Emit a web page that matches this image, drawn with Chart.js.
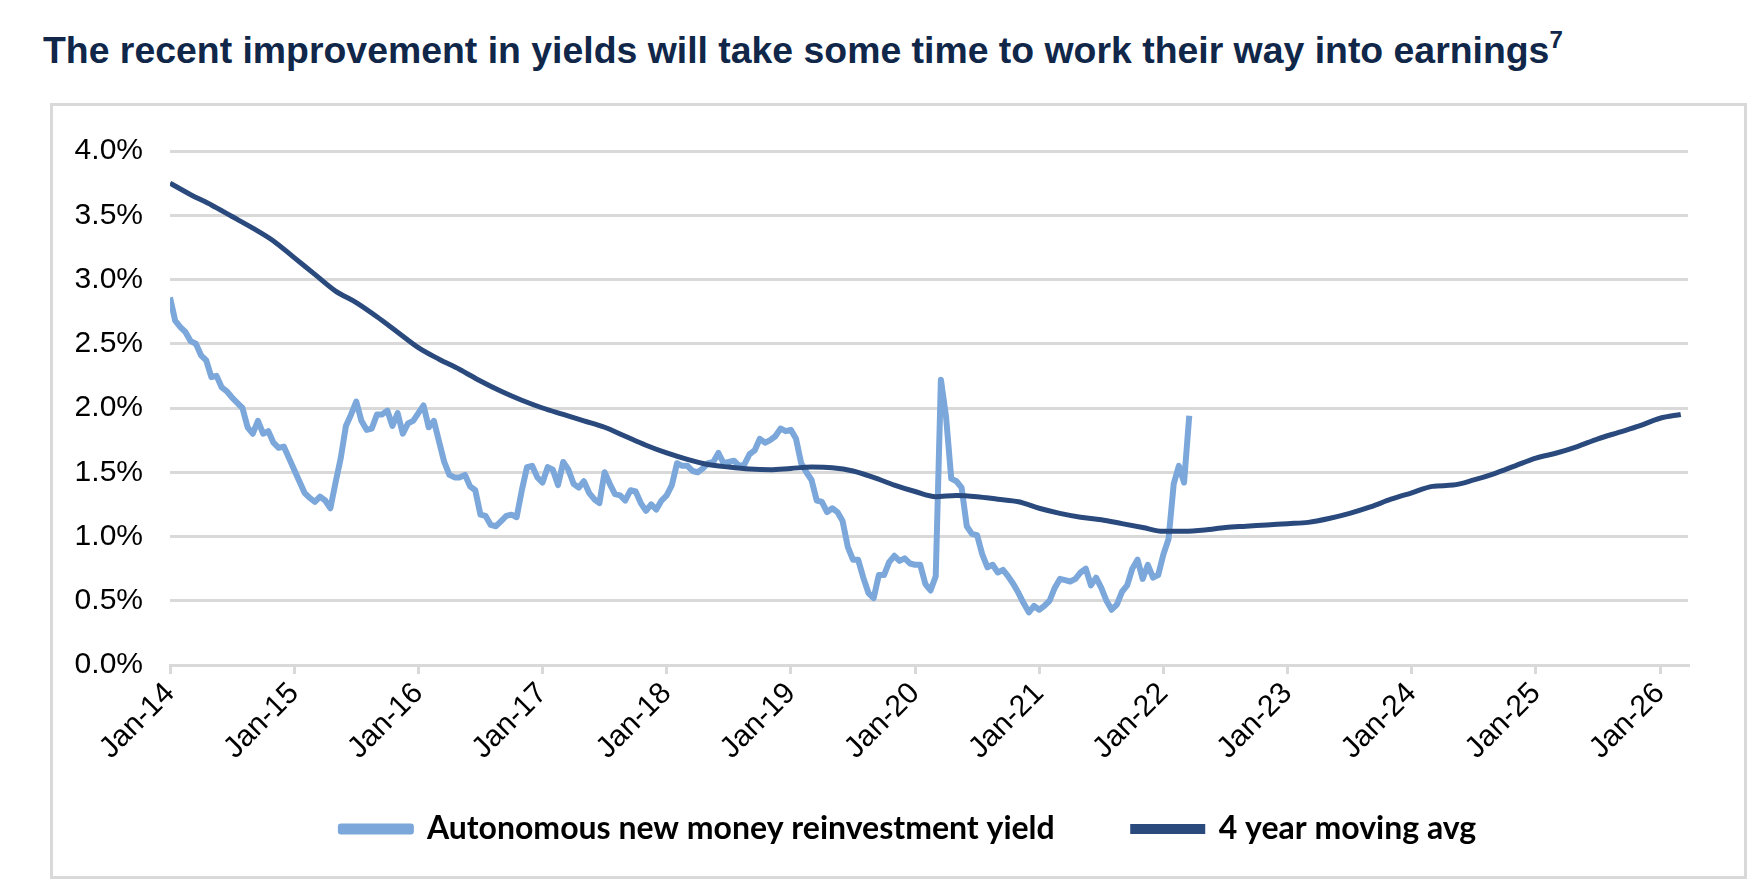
<!DOCTYPE html>
<html>
<head>
<meta charset="utf-8">
<title>Reinvestment yield</title>
<script src="https://cdn.jsdelivr.net/npm/chart.js@4/dist/chart.umd.min.js"></script>
<style>
  body { margin: 0; background: #fff; width: 1756px; height: 886px; position: relative; overflow: hidden; }
  .title {
    position: absolute; left: 43px; top: 32px; margin: 0;
    font: bold 37.4px/37px 'Liberation Sans', Arial, sans-serif; color: #10274a; white-space: nowrap;
  }
  .title sup { font-size: 24px; line-height: 0; vertical-align: 15px; }
  .frame {
    position: absolute; left: 50px; top: 103px; width: 1691px; height: 770px;
    border: 3px solid #d9d9d9;
  }
</style>
</head>
<body>
<div class="title">The recent improvement in yields will take some time to work their way into earnings<sup>7</sup></div>
<div class="frame"><canvas id="yield-chart"></canvas></div>
<script>
// x axis runs in months from Jan-14
const yearLabels = ['Jan-14', 'Jan-15', 'Jan-16', 'Jan-17', 'Jan-18', 'Jan-19', 'Jan-20',
  'Jan-21', 'Jan-22', 'Jan-23', 'Jan-24', 'Jan-25', 'Jan-26']
const lastMonth = 146.7

// Autonomous new money reinvestment yield, %, one reading every half month
const yieldStep = 0.5
const reinvestYield = [
  2.86, 2.68, 2.63, 2.59, 2.52, 2.50, 2.41, 2.37, 2.24, 2.25, 2.16, 2.13, 2.08, 2.04, 2.00, 1.85,
  1.80, 1.90, 1.80, 1.82, 1.73, 1.69, 1.70, 1.61, 1.52, 1.43, 1.34, 1.30, 1.27, 1.31, 1.28, 1.22,
  1.42, 1.61, 1.86, 1.95, 2.05, 1.90, 1.83, 1.84, 1.95, 1.95, 1.98, 1.86, 1.96, 1.80, 1.88, 1.90,
  1.96, 2.02, 1.85, 1.90, 1.74, 1.58, 1.48, 1.46, 1.46, 1.48, 1.39, 1.36, 1.17, 1.16, 1.09, 1.08,
  1.12, 1.16,
  1.17, 1.15, 1.36, 1.54, 1.55, 1.46, 1.42, 1.54, 1.52, 1.40, 1.58, 1.52, 1.41, 1.38, 1.43, 1.34,
  1.29, 1.26, 1.50, 1.41, 1.33, 1.32, 1.28, 1.36, 1.35, 1.26, 1.20, 1.25, 1.21, 1.28, 1.32, 1.40,
  1.57, 1.55, 1.55, 1.51, 1.50, 1.53, 1.57, 1.58, 1.65, 1.57, 1.58, 1.59, 1.55, 1.56, 1.64, 1.67,
  1.76, 1.73, 1.75, 1.78, 1.84, 1.82, 1.83, 1.76, 1.57, 1.50, 1.44, 1.28, 1.27, 1.19, 1.22, 1.19,
  1.12, 0.92,
  0.82, 0.82, 0.68, 0.56, 0.52, 0.70, 0.70, 0.80, 0.85, 0.81, 0.83, 0.79, 0.78, 0.78, 0.63, 0.58,
  0.69, 2.22, 1.93, 1.45, 1.43, 1.38, 1.08, 1.02, 1.01, 0.86, 0.76, 0.78, 0.72, 0.74, 0.69, 0.63,
  0.56, 0.48, 0.41, 0.46, 0.43, 0.46, 0.50, 0.60, 0.67, 0.66, 0.65, 0.67, 0.72, 0.75, 0.62, 0.68,
  0.60, 0.50, 0.43, 0.47, 0.57, 0.62, 0.75, 0.82, 0.67, 0.78, 0.68, 0.70, 0.86, 0.98, 1.41, 1.55,
  1.42, 1.94
]

// 4 year moving avg, %, one reading every two months
const avgStep = 2
const movingAvg = [
  3.75, 3.66, 3.58, 3.49, 3.40, 3.30, 3.17, 3.04, 2.91, 2.82, 2.71, 2.59, 2.47, 2.38, 2.30, 2.21,
  2.13, 2.06, 2.00, 1.95, 1.90, 1.85, 1.78, 1.71, 1.65, 1.60, 1.56, 1.54, 1.525, 1.52, 1.53, 1.54,
  1.535, 1.51, 1.46, 1.40, 1.35, 1.31, 1.32, 1.31, 1.29, 1.27, 1.22, 1.18, 1.15, 1.13, 1.10, 1.07,
  1.04, 1.04, 1.05, 1.07, 1.08, 1.09, 1.10, 1.11, 1.14, 1.18, 1.23, 1.29, 1.34, 1.39, 1.40, 1.44,
  1.49, 1.55, 1.61, 1.65, 1.70, 1.76, 1.81, 1.86, 1.92, 1.95
]

const seriesNames = ['Autonomous new money reinvestment yield', '4 year moving avg']
const lightBlue = '#7ba7da'
const navy = '#2a4a7e'
const gridGrey = '#d9d9d9'

// legend box reaches up over the tick labels so its row sits higher, a little right of centre
const legendBox = {
  id: 'legendBox',
  beforeInit (chart) {
    const fit = chart.legend.fit
    chart.legend.fit = function () {
      fit.call(this)
      this.height = 105
    }
  },
  afterLayout (chart) {
    chart.legend.left += 38
    chart.legend.right += 38
    chart.legend.top -= 36
  }
}

const ctx = document.getElementById('yield-chart').getContext('2d')
const yieldChart = new Chart(ctx, {
  type: 'line',
  data: {
    datasets: [{
      label: seriesNames[0],
      data: reinvestYield.map((v, i) => ({ x: i * yieldStep, y: v })),
      borderColor: lightBlue,
      backgroundColor: lightBlue,
      borderWidth: 6,
      pointRadius: 0,
      tension: 0,
      borderJoinStyle: 'round',
      order: 1
    },
    {
      label: seriesNames[1],
      data: movingAvg.map((v, i) => ({ x: i * avgStep, y: v })),
      borderColor: navy,
      backgroundColor: navy,
      borderWidth: 5,
      pointRadius: 0,
      cubicInterpolationMode: 'monotone',
      order: 0
    }]
  },
  options: {
    responsive: true,
    maintainAspectRatio: false,
    animation: false,
    layout: { padding: { left: 0, right: 56, top: 34, bottom: 0 } },
    plugins: {
      tooltip: { enabled: false },
      legend: {
        position: 'bottom',
        labels: {
          boxWidth: 70,
          boxHeight: 5,
          padding: 78,
          color: '#000',
          font: { family: 'Lato', weight: 'bold', size: 32 },
          sort: (a, b) => a.datasetIndex - b.datasetIndex
        }
      }
    },
    scales: {
      x: {
        type: 'linear',
        min: 0,
        max: lastMonth,
        afterFit: (scale) => { scale.height = 106 },
        grid: { drawOnChartArea: false, color: gridGrey, lineWidth: 3, tickLength: 9 },
        border: { color: gridGrey, width: 3 },
        ticks: {
          stepSize: 12,
          includeBounds: false,
          autoSkip: false,
          minRotation: 45,
          maxRotation: 45,
          padding: 2,
          color: '#000',
          font: { family: 'Liberation Sans', size: 30 },
          callback: (v) => yearLabels[v / 12]
        }
      },
      y: {
        min: 0,
        max: 4,
        afterFit: (scale) => { scale.width = 117 },
        grid: { color: gridGrey, lineWidth: 3, drawTicks: false },
        border: { display: false },
        ticks: {
          stepSize: 0.5,
          padding: 27,
          color: '#000',
          font: { family: 'Liberation Sans', size: 30 },
          callback: (v) => v.toFixed(1) + '%'
        }
      }
    }
  },
  plugins: [legendBox]
})
</script>
</body>
</html>
